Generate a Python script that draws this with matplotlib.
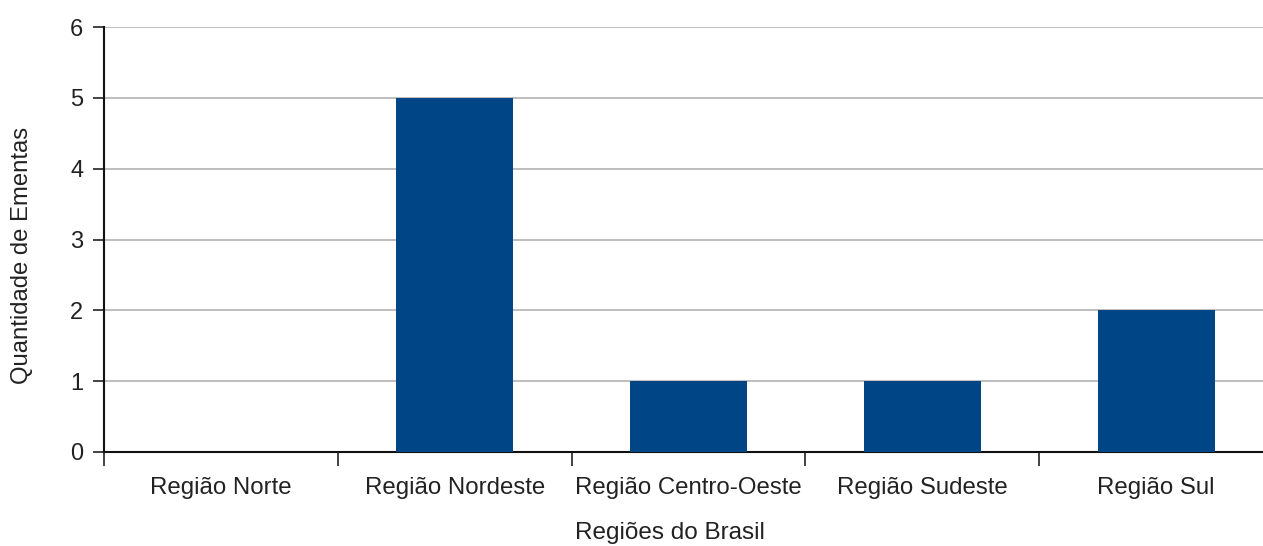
import matplotlib
matplotlib.use("Agg")
import matplotlib.pyplot as plt
import matplotlib.transforms as mtransforms
import numpy as np

plt.rcParams['font.family'] = ['Liberation Sans', 'DejaVu Sans']

regioes = ["Região Norte", "Região Nordeste", "Região Centro-Oeste",
           "Região Sudeste", "Região Sul"]
ementas = [0, 5, 1, 1, 2]
y_ticks = [0, 1, 2, 3, 4, 5, 6]

W, H = 1263, 546
fig = plt.figure(figsize=(W / 100, H / 100), dpi=100)
left, right, top, bottom = 104, 1273, 27, 452
ax = fig.add_axes([left / W, 1 - bottom / H, (right - left) / W, (bottom - top) / H])

x = np.arange(len(regioes))
ax.bar(x, ementas, width=0.5, color="#004586", zorder=3)

ax.set_xlim(-0.5, len(regioes) - 0.5)
ax.set_ylim(0, 6)
ax.set_yticks(y_ticks)
ax.yaxis.grid(True, color="#b3b3b3", linewidth=1.2, zorder=0)
ax.set_axisbelow(True)

# ticks on slot boundaries, category names centred in each slot
ax.set_xticks(np.arange(len(regioes) + 1) - 0.5)
ax.set_xticklabels([])
ax.tick_params(axis="x", which="major", length=10, width=1.2, color="#222222")
ax.tick_params(axis="y", length=8, width=1.2, pad=7, labelsize=17,
               labelcolor="#222222", color="#222222")

trans = mtransforms.blended_transform_factory(ax.transData, fig.transFigure)
for xi, nome in zip(x, regioes):
    ax.text(xi, 1 - 494 / H, nome, transform=trans, ha="center", va="baseline",
            fontsize=17.3, color="#222222")

for s in ["top", "right"]:
    ax.spines[s].set_visible(False)
for s in ["left", "bottom"]:
    ax.spines[s].set_linewidth(1.5)
    ax.spines[s].set_color("#111111")

fig.text(670 / W, 1 - 539 / H, "Regiões do Brasil", ha="center", va="baseline",
         fontsize=17.5, color="#222222")
fig.text(22 / W, 1 - 255 / H, "Quantidade de Ementas", ha="center", va="center",
         rotation=90, fontsize=17.2, color="#222222")

fig.savefig("out.png", dpi=100)
